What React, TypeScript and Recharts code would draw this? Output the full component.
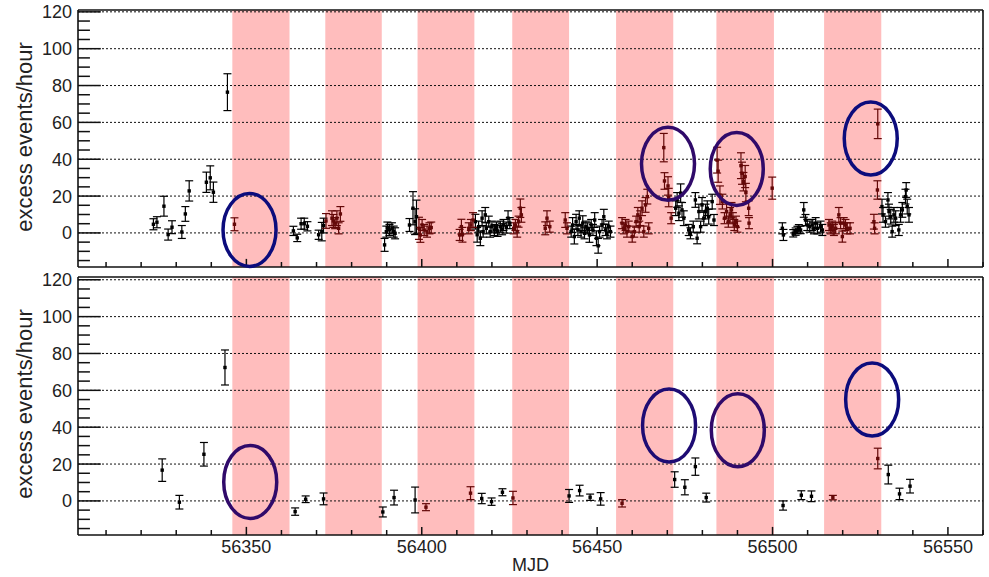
import React from 'react';
import {
  ScatterChart, Scatter, XAxis, YAxis, ErrorBar, ReferenceArea, ReferenceLine, ReferenceDot,
} from 'recharts';

// ---------------------------------------------------------------------------
// Data
// ---------------------------------------------------------------------------

const X_MIN = 56302;
const X_MAX = 56560;
const X_TICKS = [56310, 56320, 56330, 56340, 56350, 56360, 56370, 56380, 56390, 56400, 56410, 56420, 56430,
  56440, 56450, 56460, 56470, 56480, 56490, 56500, 56510, 56520, 56530, 56540, 56550, 56560];
const Y_TICKS = [-15, -10, -5, 0, 5, 10, 15, 20, 25, 30, 35, 40, 45, 50, 55, 60, 65, 70, 75, 80, 85, 90, 95,
  100, 105, 110, 115, 120];
const Y_GRID = [0, 20, 40, 60, 80, 100, 120];

// moon windows (shaded)
const BAND_START = [56346, 56372.5, 56398.8, 56425.8, 56455.4, 56484, 56514.7];
const BAND_END = [56362.3, 56388.6, 56415, 56442, 56471.7, 56500.4, 56531];

// top panel: all runs
const TOP_MJD = [
  56323.5, 56324.5, 56326.5, 56327.7, 56328.8, 56331.6, 56332.6, 56333.7, 56338.6, 56339.7, 56340.6, 56344.6, 56346.6,
  56363.4, 56364.5, 56365.6, 56366.5, 56367.4, 56370.6, 56371.5, 56372, 56372.7, 56374.4, 56374.8, 56375.3, 56375.8, 56376.3, 56376.8,
  56389.4, 56389.9, 56390.2, 56390.8, 56391.5, 56392, 56392.4, 56396.5, 56397.5, 56398.1, 56398.5, 56399.2, 56399.6, 56400.1, 56400.7, 56401.5, 56402.2, 56402.7,
  56410.8, 56411.3, 56411.6, 56413.4, 56414, 56414.6, 56415.3, 56415.8, 56416.2, 56416.7, 56417.2, 56417.5, 56418.1, 56418.4, 56419.1, 56419.5, 56420, 56420.7, 56421.3, 56421.6, 56422.4, 56422.9, 56423.3, 56424.1, 56424.6, 56425.1,
  56426.2, 56426.7, 56427.2, 56427.6, 56428.1, 56428.4, 56435.2, 56435.7, 56436.5, 56440.9, 56441.4,
  56442.6, 56443, 56443.5, 56444, 56444.5, 56444.9, 56445.4, 56445.9, 56446.4, 56446.8, 56447.3, 56447.8, 56448.3, 56448.8, 56449.3, 56449.8, 56450.3, 56450.7, 56451.4, 56451.9, 56452.4, 56452.8, 56453.3, 56453.8,
  56457.1, 56457.6, 56458.1, 56458.5, 56459, 56460, 56460.6, 56461.1, 56461.6, 56462, 56462.3, 56462.8, 56463.3, 56463.8, 56464.3, 56464.7, 56469, 56469.2, 56470.2, 56470.4, 56471.1,
  56472.4, 56472.8, 56473.3, 56473.8, 56474.2, 56474.7, 56476.1, 56476.6, 56477.4, 56478, 56478.5, 56479, 56479.5, 56479.9, 56480.4, 56480.9, 56481.4, 56481.8, 56482.8, 56483.3,
  56484.2, 56484.5, 56485, 56485.7, 56486.3, 56486.9, 56487.4, 56487.9, 56488.3, 56488.7, 56489.1, 56489.6, 56490, 56491, 56491.3, 56491.7, 56492.2, 56492.4, 56493.2, 56493.3, 56499.9,
  56502.8, 56503.1, 56505.9, 56506.6, 56507.1, 56507.5, 56508, 56508.9, 56509.4, 56509.9, 56510.6, 56511.3, 56511.8, 56512.3, 56512.8, 56513.7, 56514.2,
  56516.1, 56516.6, 56517, 56517.5, 56518, 56518.9, 56519.4, 56519.9, 56520.3, 56520.8, 56521.3, 56522.1, 56528.9, 56529.1, 56529.9, 56530,
  56531.2, 56531.5, 56532.2, 56532.9, 56533.2, 56533.7, 56534.1, 56534.6, 56535.1, 56536, 56536.5, 56537, 56537.9, 56538.1, 56538.4, 56538.9,
];
const TOP_EXCESS = [
  4.7, 5.8, 14.5, -0.9, 3.1, 0.5, 10.3, 22.8, 27.5, 29.9, 22.1, 76.4, 4.7,
  1.1, -2.7, 5, 5, 3.6, -1, 0.7, 4, 6.5, 8, 6.5, 5.3, 8, 2.5, 10.3,
  -6.5, 0.7, 2.9, 1.6, 2.5, 0.7, -0.2, 4.3, 13.4, 6.1, 8.8, 2.5, -1.1, 4.3, 1.6, 0.7, 2.5, 2.9,
  -1.1, 3.4, -1, 2.5, 4.3, 7, 6.1, -1, 3.4, -2.9, 8, 0.7, 9.8, 2.5, 6.1, 0.7, 3.4, 1.6, 2.9, 1.1, 3.4, 2, 4.3, 2.9, 8, 5.3,
  2.5, 4.3, 0.7, 6.1, 13.4, 9.8, 2.5, 8, 3.4, 7, 2.5,
  0.7, 4.3, -2, 6.1, 1.6, 8, 0.7, 5.3, -0.2, 3.4, 2.5, -1.1, 4.3, 1.6, 7, -2.9, -7, 0.7, 4.3, 8.8, 1.6, -0.2, 3.4, 0.7,
  5.3, 2.5, 4.3, 0.7, 3.4, -2, 0.7, 6.1, 9.8, 3.4, 8, 13.4, 0.7, 15.2, 19.7, 2.5, 46.3, 28.2, 25.5, 19.2, 8,
  13.4, 17.9, 10.7, 21.6, 12.5, 8, 1.6, -0.2, 3.4, 17.9, -2.9, 11.6, 3.4, 15.2, 8, 11.6, 13.4, 8.8, 17, 7,
  39.5, 33.5, 20.5, 17, 8, 11.6, 6.1, 9.8, 12.5, 8, 4.3, 6.1, 3.4, 36.5, 32.4, 27.8, 30.6, 21.9, 13.4, 5.3, 24.3,
  2.5, -1.1, -0.2, 0.7, 1.6, 2.5, 1.6, 12.5, 7, 4.3, 3.4, 4.3, 2.5, 5.3, 2.5, 3.4, 1.6,
  4.3, 2.5, 3.4, 1.6, 2.5, 9.8, 5.3, -2, 5.3, 4.3, 2.5, 2.5, 6.1, 2.5, 23.3, 59.2,
  14.3, 9.8, 6.1, 17.9, 11.6, 8.8, 0.7, 9.8, 8, 1.6, 9.8, 12.5, 19.7, 23.3, 14.3, 9.8,
];
const TOP_ERR = [
  3, 3, 5.4, 3, 3.5, 3.5, 4, 5.5, 5.5, 6.5, 5.5, 10, 3.5,
  2.5, 2, 3, 3, 2.5, 2.5, 5, 4, 4, 4, 3.5, 3, 4, 3, 4,
  3.5, 3, 3, 3, 3, 3, 3, 3.5, 9, 7, 9, 6, 4, 3, 3, 3, 3, 3,
  3, 4, 4, 3, 3, 4, 4, 4, 3, 4, 4, 3, 4, 3, 3, 3, 3, 3, 3, 3, 3, 3, 3, 3, 4, 3,
  3, 3, 3, 3, 5, 4, 3.5, 4, 3, 4, 3,
  3, 4, 4, 4, 3, 4, 3, 4, 3, 3, 3, 4, 3, 3, 4, 4, 4, 3, 3, 4, 3, 3, 3, 3,
  3, 3, 3, 3, 3, 3, 3, 3, 4, 3, 4, 4, 3, 4, 4, 3, 7.7, 4.5, 5, 5, 3,
  4, 4, 4, 5, 4, 4, 3, 3, 3, 4, 3, 4, 3, 4, 4, 4, 4, 4, 4, 3,
  7, 6, 5, 4, 3, 4, 3, 4, 4, 3, 3, 3, 3, 7, 6, 5, 6, 5, 4, 3, 6,
  3, 3, 2, 2, 2, 2, 2, 4, 3, 3, 3, 3, 3, 3, 3, 3, 3,
  3, 3, 3, 3, 3, 4, 3, 3, 3, 3, 3, 3, 4, 3, 5, 8,
  4, 4, 3, 4, 4, 4, 3, 4, 4, 3, 4, 4, 4, 4, 4, 4,
];

// bottom panel: selected runs
const BOT_MJD = [56326, 56330.9, 56337.9, 56343.9, 56363.9, 56366.9, 56372, 56388.9, 56392.1, 56398.1, 56401.2,
  56413.9, 56417.1, 56419.9, 56423, 56426, 56442, 56445, 56448, 56451, 56457.1, 56472.1, 56475, 56478, 56481.1,
  56503, 56508.2, 56511.1, 56517.2, 56530, 56533, 56536.2, 56539.2];
const BOT_EXCESS = [16.7, -0.7, 25.3, 72.4, -5.8, 0.9, 1.1, -6, 1.8, 0.5, -3.4,
  4.2, 1.3, -0.4, 4.7, 1.6, 2.7, 5.6, 2, 1.1, -1.3, 11.6, 7.4, 18.6, 1.8,
  -2.5, 3.1, 2.5, 1.8, 23, 14.3, 3.8, 8];
const BOT_ERR = [6.1, 3.7, 6.4, 9.5, 2, 1.8, 3.2, 2.7, 4, 7, 1.9,
  3.5, 2.8, 2, 1.9, 3.6, 3.5, 2.9, 1.7, 3.4, 2, 4.2, 4.1, 4.7, 2.4,
  2.5, 2.4, 2.9, 1.2, 5.6, 5.1, 3.1, 3.7];

// circled regions
const TOP_RING_X = [56350.9, 56470.2, 56489.8, 56528];
const TOP_RING_Y = [1.6, 37.5, 34.7, 51.2];
const BOT_RING_X = [56351.1, 56470.5, 56490.1, 56528.4];
const BOT_RING_Y = [10.3, 40.9, 38.4, 55];

// ---------------------------------------------------------------------------
// Styles
// ---------------------------------------------------------------------------

const FONT = '"Liberation Sans", Arial, Helvetica, sans-serif';
const AXIS = '#111';
const PINK = '#ffbdbd';
const DARK_RED = '#640808';
const NAVY = '#0c0c7c';
const PURPLE = '#300a6a';
const TOP_RING_COLORS = [NAVY, PURPLE, PURPLE, NAVY];
const BOT_RING_COLORS = [PURPLE, '#1e0c74', PURPLE, NAVY];

// inner tick lengths, in axis units (ROOT-style ticks point into the frame)
const YTICK_MAJOR = 6.5;   // along x (MJD)
const YTICK_MINOR = 3.4;
const XTICK_MAJOR = 4.4;   // along y (events/hour)
const XTICK_MINOR = 2.7;

type Pt = { x: number; y: number; err: number };

function inBand(x: number) {
  return BAND_START.some((s, i) => x > s && x < BAND_END[i]);
}

function buildPoints(mjd: number[], val: number[], err: number[]) {
  const pts: Pt[] = mjd.map((x, i) => ({ x, y: val[i], err: err[i] }));
  return { on: pts.filter(p => inBand(p.x)), off: pts.filter(p => !inBand(p.x)) };
}

const squareShape = (color: string) => (p: any) =>
  <rect x={p.cx - 1.7} y={p.cy - 1.7} width={3.4} height={3.4} fill={color} />;

const YTick = (p: any) => {
  const v = p.payload.value;
  if (v % 20 !== 0) return <g />;
  return <text x={p.x - 6} y={p.y + 6.5} textAnchor="end" fontSize={18} fill="#222" fontFamily={FONT}>{v}</text>;
};

const makeXTick = (labels: boolean) => (p: any) => {
  const v = p.payload.value;
  if (!labels || v % 50 !== 0) return <g />;
  return <text x={p.x} y={p.y + 18} textAnchor="middle" fontSize={18} fill="#222" fontFamily={FONT}>{v}</text>;
};

// ---------------------------------------------------------------------------
// Panel
// ---------------------------------------------------------------------------

function Panel({ mjd, val, err, ringX, ringY, ringColors, labels, height, top, bottom, axisHeight, yDomain }: {
  mjd: number[]; val: number[]; err: number[]; ringX: number[]; ringY: number[]; ringColors: string[];
  labels: boolean; height: number; top: number; bottom: number; axisHeight: number; yDomain: [number, number];
}) {
  const { on, off } = buildPoints(mjd, val, err);
  const [yLo, yHi] = yDomain;
  return (
    <ScatterChart width={989} height={height} margin={{ top, right: 6, bottom, left: 0 }}>
      <XAxis type="number" dataKey="x" domain={[X_MIN, X_MAX]} allowDataOverflow ticks={X_TICKS} interval={0}
        axisLine={false} tickLine={false} tickSize={0} tickMargin={0} height={axisHeight} tick={makeXTick(labels)}
        label={labels ? { value: 'MJD', position: 'insideBottom', offset: 6, fontSize: 18, fill: '#222', fontFamily: FONT } : undefined} />
      <YAxis type="number" dataKey="y" domain={yDomain} allowDataOverflow ticks={Y_TICKS} interval={0}
        axisLine={false} tickLine={false} tickSize={0} tickMargin={0} width={78} tick={<YTick />} />
      {BAND_START.map((s, i) => (
        <ReferenceArea key={'b' + i} x1={s} x2={BAND_END[i]} y1={yLo} y2={yHi} fill={PINK} fillOpacity={1} stroke="none" />
      ))}
      {Y_GRID.map(v => (
        <ReferenceLine key={'g' + v} y={v} stroke="#111" strokeWidth={1} strokeDasharray="2 2" />
      ))}
      {Y_TICKS.map(v => (
        <ReferenceLine key={'yt' + v} ifOverflow="visible" stroke={AXIS} strokeWidth={1.5}
          segment={[{ x: X_MIN, y: v }, { x: X_MIN + (v % 20 === 0 ? YTICK_MAJOR : YTICK_MINOR), y: v }]} />
      ))}
      {X_TICKS.map(v => (
        <ReferenceLine key={'xt' + v} ifOverflow="visible" stroke={AXIS} strokeWidth={1.5}
          segment={[{ x: v, y: yLo }, { x: v, y: yLo + (v % 50 === 0 ? XTICK_MAJOR : XTICK_MINOR) }]} />
      ))}
      <Scatter data={off} shape={squareShape('#000')} isAnimationActive={false}>
        <ErrorBar dataKey="err" direction="y" width={4} stroke="#000" strokeWidth={1.2} isAnimationActive={false} />
      </Scatter>
      <Scatter data={on} shape={squareShape(DARK_RED)} isAnimationActive={false}>
        <ErrorBar dataKey="err" direction="y" width={4} stroke={DARK_RED} strokeWidth={1.2} isAnimationActive={false} />
      </Scatter>
      {ringX.map((x, i) => (
        <ReferenceDot key={'r' + i} x={x} y={ringY[i]} ifOverflow="visible"
          shape={(p: any) => <ellipse cx={p.cx} cy={p.cy} rx={26.5} ry={36.5} fill="none" stroke={ringColors[i]} strokeWidth={3.5} />} />
      ))}
      {/* frame */}
      <ReferenceLine x={X_MIN} ifOverflow="visible" stroke={AXIS} strokeWidth={1.6} />
      <ReferenceLine x={X_MAX} ifOverflow="visible" stroke={AXIS} strokeWidth={1.6} />
      <ReferenceLine y={yLo} ifOverflow="visible" stroke={AXIS} strokeWidth={1.6} />
      <ReferenceLine y={yHi} ifOverflow="visible" stroke={AXIS} strokeWidth={1.6} />
    </ScatterChart>
  );
}

export default function App() {
  return (
    <div style={{ position: 'absolute', left: 0, top: 0, width: 989, height: 577, background: '#fff', fontFamily: FONT }}>
      <div style={{ position: 'absolute', left: 0, top: 0 }}>
        <Panel mjd={TOP_MJD} val={TOP_EXCESS} err={TOP_ERR} ringX={TOP_RING_X} ringY={TOP_RING_Y} ringColors={TOP_RING_COLORS}
          labels={false} height={300} top={10} bottom={3} axisHeight={30} yDomain={[-18.5, 121]} />
      </div>
      <div style={{ position: 'absolute', left: 0, top: 267 }}>
        <Panel mjd={BOT_MJD} val={BOT_EXCESS} err={BOT_ERR} ringX={BOT_RING_X} ringY={BOT_RING_Y} ringColors={BOT_RING_COLORS}
          labels height={310} top={10} bottom={0} axisHeight={42} yDomain={[-18.5, 121.5]} />
      </div>
      <svg width={989} height={577} style={{ position: 'absolute', left: 0, top: 0, pointerEvents: 'none' }}>
        <text transform="translate(32,137) rotate(-90)" textAnchor="middle" fontSize={22} fill="#222" fontFamily={FONT}>excess events/hour</text>
        <text transform="translate(32,404) rotate(-90)" textAnchor="middle" fontSize={22} fill="#222" fontFamily={FONT}>excess events/hour</text>
      </svg>
    </div>
  );
}
